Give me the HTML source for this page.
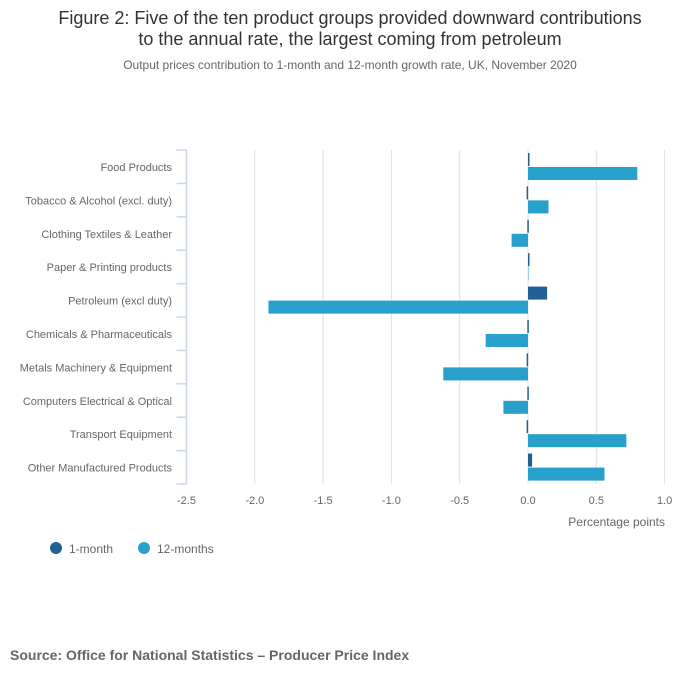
<!DOCTYPE html>
<html><head><meta charset="utf-8"><style>
body{margin:0;background:#fff;font-family:"Liberation Sans",sans-serif;}
</style></head><body>
<svg width="700" height="682" xmlns="http://www.w3.org/2000/svg" font-family="Liberation Sans, sans-serif">
<text x="350" y="24" text-anchor="middle" font-size="18" fill="#333">Figure 2: Five of the ten product groups provided downward contributions</text>
<text x="350" y="45" text-anchor="middle" font-size="18" fill="#333">to the annual rate, the largest coming from petroleum</text>
<text x="350" y="69" text-anchor="middle" font-size="12" fill="#666">Output prices contribution to 1-month and 12-month growth rate, UK, November 2020</text>
<g id="plot"></g>
<text x="665" y="526" text-anchor="end" font-size="12" fill="#666">Percentage points</text>
<g><circle cx="56" cy="548" r="6" fill="#206095"/><text x="69" y="553" font-size="12" fill="#666">1-month</text></g>
<g><circle cx="144" cy="548" r="6" fill="#27a0cc"/><text x="157" y="553" font-size="12" fill="#666">12-months</text></g>
<text x="10" y="660" font-size="14" font-weight="bold" fill="#666">Source: Office for National Statistics – Producer Price Index</text>
</svg>
<script>
const categories=["Food Products","Tobacco & Alcohol (excl. duty)","Clothing Textiles & Leather","Paper & Printing products","Petroleum (excl duty)","Chemicals & Pharmaceuticals","Metals Machinery & Equipment","Computers Electrical & Optical","Transport Equipment","Other Manufactured Products"];
const oneMonth=[0.01,-0.01,-0.005,0.0,0.14,-0.005,-0.01,-0.005,-0.01,0.03];
const twelveMonths=[0.80,0.15,-0.12,0.0,-1.90,-0.31,-0.62,-0.18,0.72,0.56];
const ticks=[-2.5,-2,-1.5,-1,-0.5,0,0.5,1];
const tickLabels=["-2.5","-2.0","-1.5","-1.0","-0.5","0.0","0.5","1.0"];
const NS="http://www.w3.org/2000/svg";
const plotG=document.getElementById('plot');
const x0=186.5,unit=136.6,plotTop=150,rowH=33.4;
function xs(v){return x0+(v+2.5)*unit;}
function mk(t,a){const e=document.createElementNS(NS,t);for(const k in a)e.setAttribute(k,a[k]);plotG.appendChild(e);return e;}
const plotBottom=plotTop+rowH*categories.length;
ticks.forEach((t,i)=>{
  if(i>0){const l=mk('line',{x1:xs(t),x2:xs(t),y1:plotTop,y2:plotBottom,stroke:'#e0e0e0','stroke-width':1});
  
  }
  const tx=mk('text',{x:xs(t),y:plotBottom+20,'text-anchor':'middle','font-size':11,fill:'#666'});
  tx.textContent=tickLabels[i];
  
  
});
const ax=mk('line',{x1:x0,x2:x0,y1:plotTop,y2:plotBottom,stroke:'#ccd6e8','stroke-width':1.5});


for(let i=0;i<=categories.length;i++){
  const tk=mk('line',{x1:x0-10,x2:x0,y1:plotTop+i*rowH,y2:plotTop+i*rowH,stroke:'#ccd6e8','stroke-width':1.5});
  
  
}
categories.forEach((c,i)=>{
  const y=plotTop+i*rowH;
  const t=mk('text',{x:172,y:y+21,'text-anchor':'end','font-size':11,fill:'#666'});
  t.textContent=c;
  
  
  const a=oneMonth[i],b=twelveMonths[i];
  const r1=mk('rect',{x:Math.min(xs(a),xs(0)),y:y+3,width:Math.max(Math.abs(xs(a)-xs(0)),1.5),height:13,fill:'#206095'});
  
  
  const r2=mk('rect',{x:Math.min(xs(b),xs(0)),y:y+17,width:Math.max(Math.abs(xs(b)-xs(0)),0.5),height:13,fill:'#27a0cc'});
  
  
});
</script>
</body></html>
